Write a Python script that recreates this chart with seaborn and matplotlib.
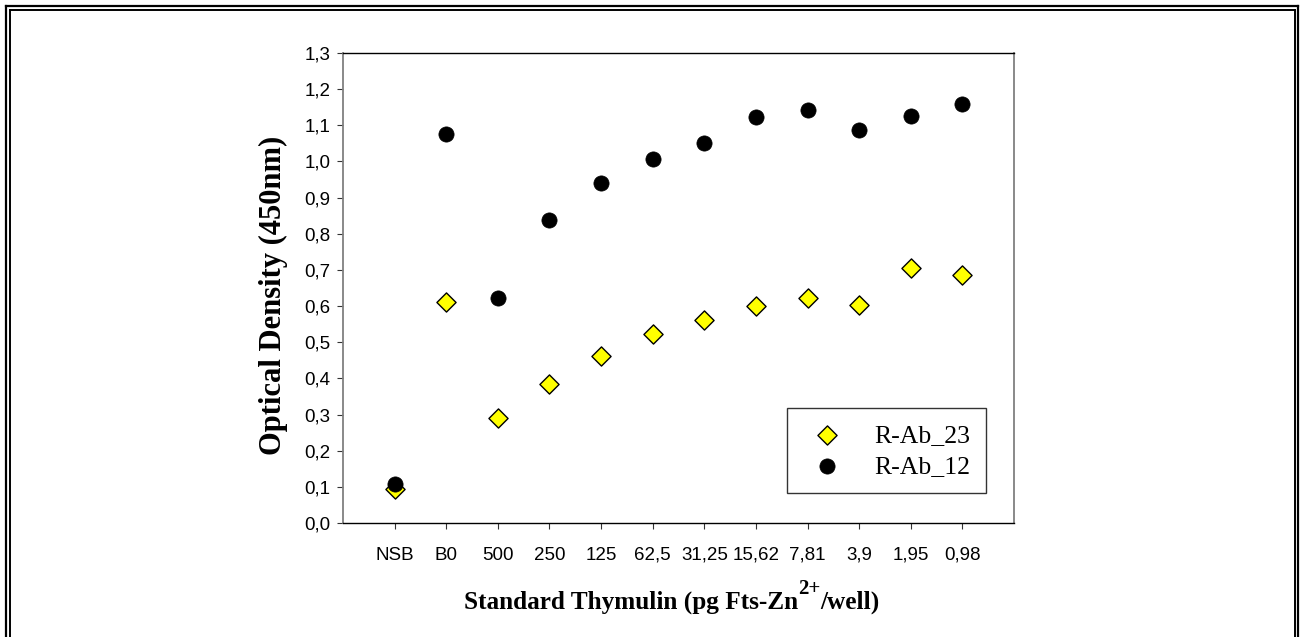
import matplotlib
matplotlib.use("Agg")
import matplotlib.pyplot as plt
from matplotlib.lines import Line2D
import seaborn as sns
import pandas as pd

categories = ["NSB", "B0", "500", "250", "125", "62,5", "31,25", "15,62", "7,81", "3,9", "1,95", "0,98"]
r_ab_23 = [0.094, 0.612, 0.290, 0.385, 0.463, 0.523, 0.561, 0.600, 0.623, 0.604, 0.704, 0.685]
r_ab_12 = [0.108, 1.077, 0.622, 0.837, 0.941, 1.006, 1.050, 1.122, 1.141, 1.086, 1.126, 1.160]
series_names = ["R-Ab_23", "R-Ab_12"]
y_ticks = [0.0, 0.1, 0.2, 0.3, 0.4, 0.5, 0.6, 0.7, 0.8, 0.9, 1.0, 1.1, 1.2, 1.3]
y_tick_labels = ["0,0", "0,1", "0,2", "0,3", "0,4", "0,5", "0,6", "0,7", "0,8", "0,9", "1,0", "1,1", "1,2", "1,3"]
xlabel_parts = ["Standard Thymulin (pg Fts-Zn", "2+", "/well)"]
ylabel_text = "Optical Density (450nm)"

sns.set_theme(style="white")
plt.rcParams["font.family"] = ["Liberation Sans", "DejaVu Sans"]
plt.rcParams["text.color"] = "black"
plt.rcParams["axes.labelcolor"] = "black"
plt.rcParams["xtick.color"] = "black"
plt.rcParams["ytick.color"] = "black"

W, H = 1300, 637
fig = plt.figure(figsize=(W / 100, H / 100), dpi=100)
fig.patch.set_facecolor("white")
ax = fig.add_axes([343 / W, 1 - 523 / H, (1014 - 343) / W, (523 - 53) / H])

df = pd.DataFrame({
    "cat": categories * 2,
    "od": r_ab_23 + r_ab_12,
    "series": [series_names[0]] * len(categories) + [series_names[1]] * len(categories),
})

sns.scatterplot(data=df[df.series == series_names[0]], x="cat", y="od", ax=ax,
                color="#ffff00", marker="D", s=95, edgecolor="black", linewidth=1.0,
                label=series_names[0], zorder=3)
sns.scatterplot(data=df[df.series == series_names[1]], x="cat", y="od", ax=ax,
                color="black", marker="o", s=120, edgecolor="black", linewidth=0.5,
                label=series_names[1], zorder=4)

ax.set_xlim(-1, len(categories))
ax.set_ylim(0, 1.3)
ax.set_yticks(y_ticks)
ax.set_yticklabels(y_tick_labels)
ax.set_xticks(range(len(categories)))
ax.set_xticklabels(categories)
ax.set_xlabel("")
ax.set_ylabel("")
ax.tick_params(axis="both", which="both", direction="out", length=4, width=0.8,
               color="#333333", labelsize=13.5, labelcolor="black", pad=5,
               left=True, bottom=True, right=False, top=False)
ax.tick_params(axis="x", pad=13)

for side in ["left", "right"]:
    ax.spines[side].set_color("#808080")
    ax.spines[side].set_linewidth(1.3)
for side in ["top", "bottom"]:
    ax.spines[side].set_color("black")
    ax.spines[side].set_linewidth(1.0)

leg = ax.legend(loc="lower right", bbox_to_anchor=((986 - 343) / 671, (523 - 493) / 470),
                frameon=True, fancybox=False, shadow=False, borderpad=0.6,
                handlelength=1.9, handletextpad=0.9, labelspacing=0.3, borderaxespad=0,
                prop={"family": "Liberation Serif", "size": 18.5})
leg.get_frame().set_edgecolor("black")
leg.get_frame().set_linewidth(1.0)
leg.get_frame().set_facecolor("white")
for t in leg.get_texts():
    t.set_color("black")

fig.text(273 / W, 1 - 295 / H, ylabel_text, rotation=90,
         ha="center", va="center", family="Liberation Serif", weight="bold", size=22,
         color="black")

# x label built from pieces so the superscript is large like the reference
renderer = fig.canvas.get_renderer()
base_y = 1 - 609 / H
sup_y = 1 - 594 / H
sizes = [18.2, 15, 18.2]
ys = [base_y, sup_y, base_y]
texts = []
for part, sz, yy in zip(xlabel_parts, sizes, ys):
    t = fig.text(0, yy, part, ha="left", va="baseline", family="Liberation Serif",
                 weight="bold", size=sz, color="black")
    texts.append(t)
widths = [t.get_window_extent(renderer).width for t in texts]
total = sum(widths)
start = 672 - total / 2
for t, w in zip(texts, widths):
    t.set_x(start / W)
    start += w

# double frame around the figure
def frame(inset_l, inset_t, inset_r, lw):
    xs_l = inset_l / W
    xs_r = 1 - inset_r / W
    yt = 1 - inset_t / H
    for xy in [([xs_l, xs_l], [yt, -0.1]), ([xs_r, xs_r], [yt, -0.1]), ([xs_l, xs_r], [yt, yt])]:
        fig.add_artist(Line2D(xy[0], xy[1], transform=fig.transFigure, color="black",
                              linewidth=lw, solid_capstyle="projecting"))

frame(6, 6, 2.5, 1.6)
frame(10, 10, 5.5, 1.4)

fig.savefig("out.png", dpi=100, facecolor="white")
